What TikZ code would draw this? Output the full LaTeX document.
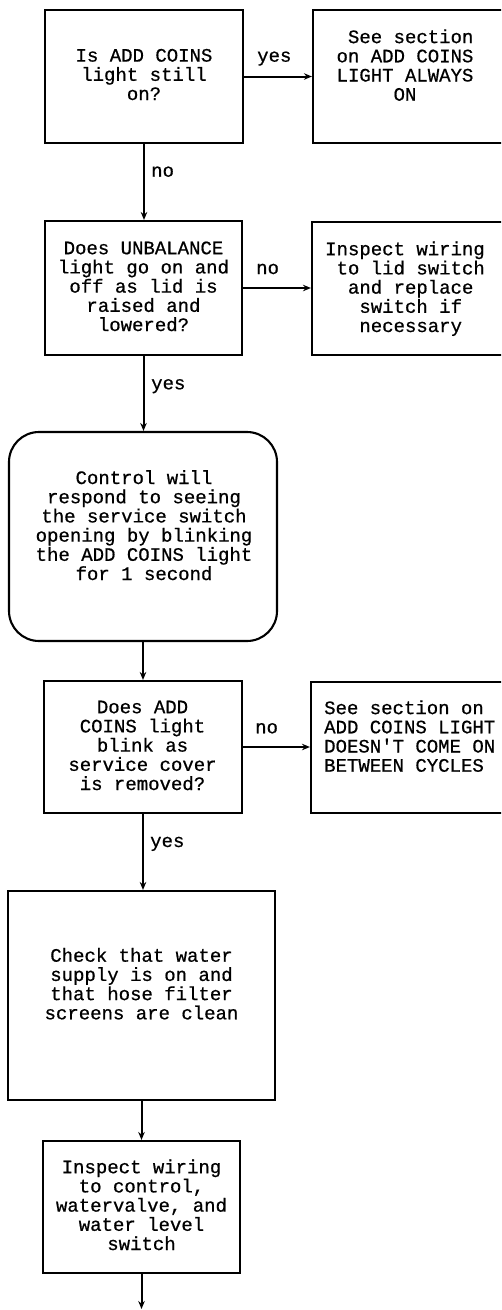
\documentclass[tikz,border=0pt]{standalone}
\usepackage{fontspec}
\setmonofont{Liberation Mono}[FakeBold=0.7]
\usetikzlibrary{arrows.meta}
\tikzset{
  box/.style={draw, line width=2.1pt, rectangle, inner sep=0pt},
  rbox/.style={box, rounded corners=30pt},
  txt/.style={font=\ttfamily\fontsize{19}{19.2}\selectfont, inner sep=0pt, align=center, anchor=base},
  lbl/.style={font=\ttfamily\fontsize{19}{19.2}\selectfont, inner sep=0pt, anchor=base west},
  conn/.style={line width=2pt, -{Stealth[length=8pt,width=6.5pt]}},
}
\begin{document}
\begin{tikzpicture}[x=1pt,y=-1pt]
\useasboundingbox (0,0) rectangle (501,1310);
\clip (0,0) rectangle (501,1310);
% boxes
\node[box, minimum width=198pt, minimum height=133pt] (b1) at (144,76.5) {};
\node[box, minimum width=207pt, minimum height=133pt] (b1r) at (416.5,76.5) {};
\node[box, minimum width=197pt, minimum height=134pt] (b2) at (143.5,288) {};
\node[box, minimum width=208pt, minimum height=133pt] (b2r) at (416,288.5) {};
\node[rbox, minimum width=268pt, minimum height=209pt] (r) at (143,536.5) {};
\node[box, minimum width=198pt, minimum height=132pt] (b3) at (143,747) {};
\node[box, minimum width=209pt, minimum height=131pt] (b3r) at (415.5,747.5) {};
\node[box, minimum width=267pt, minimum height=209pt] (b4) at (141.5,995.5) {};
\node[box, minimum width=197pt, minimum height=132pt] (b5) at (141.5,1207) {};
\coordinate (end) at (141.5,1309);
% texts (anchored at the baseline of their last line)
\node[txt] (t1) at (144,100) {Is ADD COINS~\\light still\\on?};
\node[txt] (t1r) at (405,100.7) {~See section\\on ADD COINS\\LIGHT ALWAYS\\ON};
\node[txt] (t2) at (143.5,331) {Does UNBALANCE~\\light go on and\\off as lid is\\raised and~\\lowered?~};
\node[txt] (t2r) at (405,332) {Inspect wiring\\~to lid switch\\~and replace\\~switch if\\~necessary};
\node[txt] (tr) at (144,580) {Control will~\\respond to seeing\\the service switch~\\opening by blinking\\the ADD COINS light\\for 1 second~};
\node[txt] (t3) at (142.5,790) {Does ADD~\\COINS light\\blink as~\\service cover\\is removed?};
\node[txt, align=left, anchor=base west] (t3r) at (324,771.7) {See section on\\ADD COINS LIGHT\\DOESN'T COME ON\\BETWEEN CYCLES};
\node[txt] (t4) at (141.5,1019.3) {Check that water~\\supply is on and~\\that hose filter~\\screens are clean};
\node[txt] (t5) at (141.5,1250) {Inspect wiring~\\to control,\\watervalve, and\\water level\\switch~};
% connectors
\draw[conn] (b1.east) -- (b1r.west);
\draw[conn] (b1.south) -- (b1.south |- b2.north);
\draw[conn] (b2.east) -- (b2.east -| b2r.west);
\draw[conn] (b2.south) -- (b2.south |- r.north);
\draw[conn] (r.south) -- (r.south |- b3.north);
\draw[conn] (b3.east) -- (b3.east -| b3r.west);
\draw[conn] (b3.south) -- (b3.south |- b4.north);
\draw[conn] (b4.south) -- (b5.north);
\draw[conn] (b5.south) -- (end);
% labels
\node[lbl] (l1) at (257,61.7) {yes};
\node[lbl] (l2) at (151,176.7) {no};
\node[lbl] (l3) at (256,274) {no};
\node[lbl] (l4) at (151,389.3) {yes};
\node[lbl] (l5) at (255,733.3) {no};
\node[lbl] (l6) at (150,847) {yes};
\end{tikzpicture}
\end{document}
